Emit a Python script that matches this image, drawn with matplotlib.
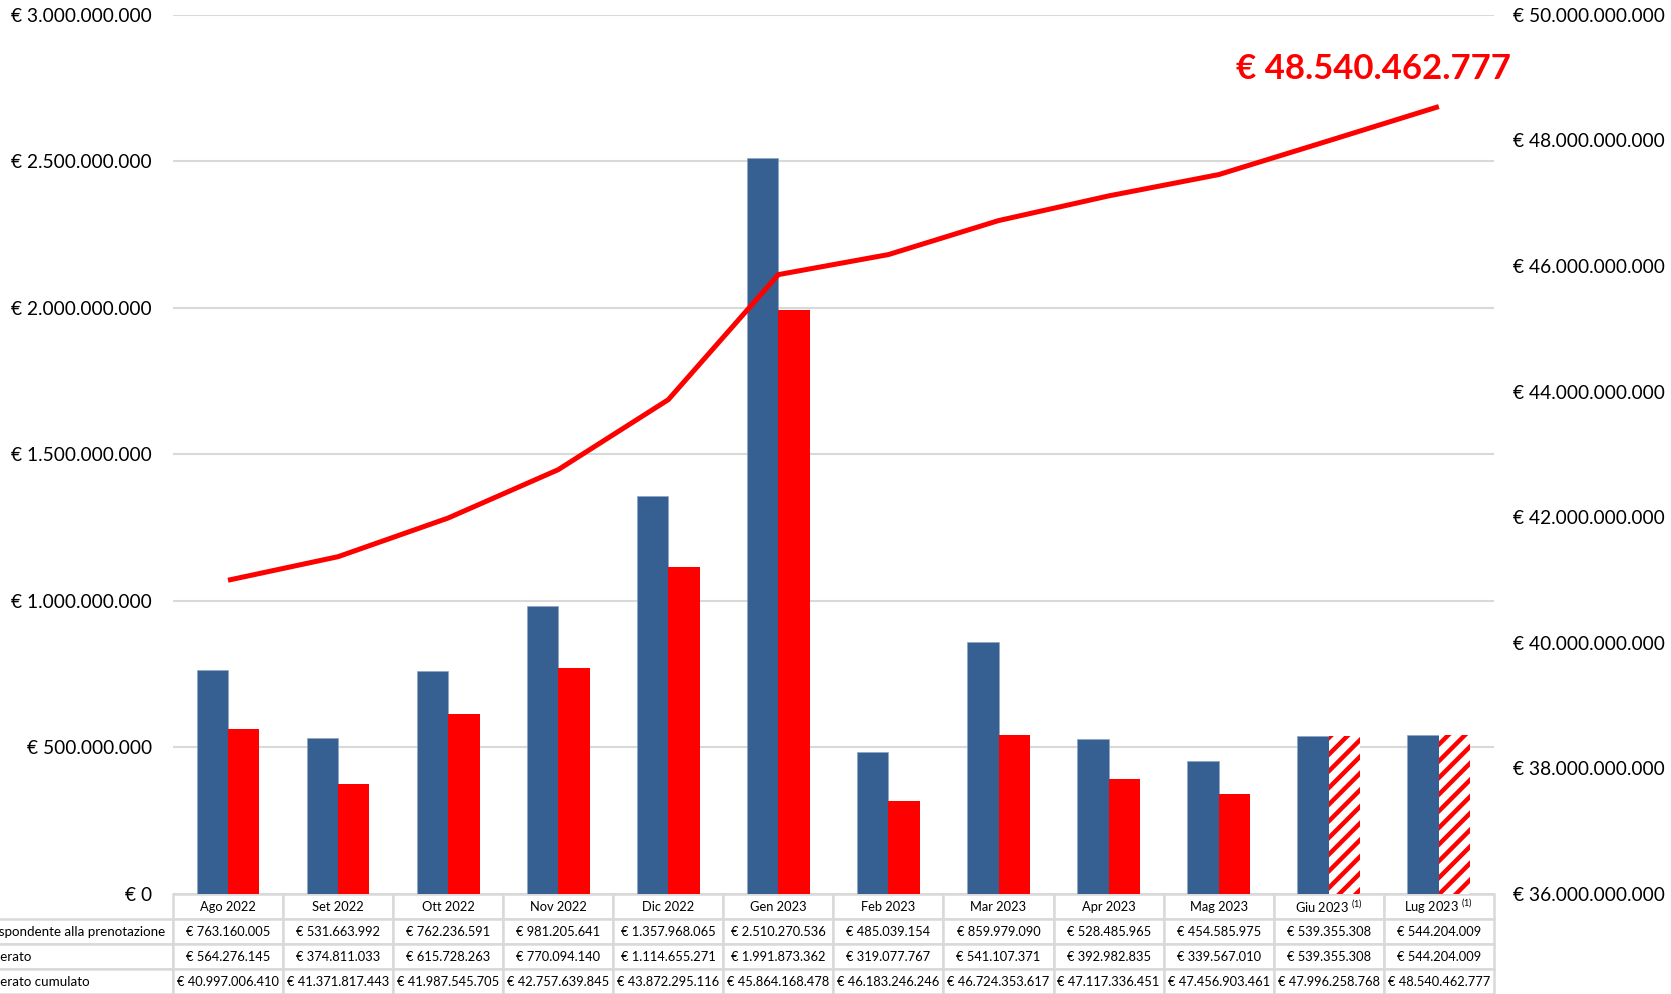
import numpy as np
import matplotlib.pyplot as plt
from matplotlib.ticker import FuncFormatter

plt.rcParams['font.family'] = ['Lato', 'DejaVu Sans']
plt.rcParams['hatch.linewidth'] = 3.2

mesi = ["Ago 2022", "Set 2022", "Ott 2022", "Nov 2022", "Dic 2022", "Gen 2023",
        "Feb 2023", "Mar 2023", "Apr 2023", "Mag 2023", "Giu 2023", "Lug 2023"]
prenotato = [763160005, 531663992, 762236591, 981205641, 1357968065, 2510270536,
             485039154, 859979090, 528485965, 454585975, 539355308, 544204009]
deliberato = [564276145, 374811033, 615728263, 770094140, 1114655271, 1991873362,
              319077767, 541107371, 392982835, 339567010, 539355308, 544204009]
cumulato = [40997006410, 41371817443, 41987545705, 42757639845, 43872295116, 45864168478,
            46183246246, 46724353617, 47117336451, 47456903461, 47996258768, 48540462777]
stimati = [False] * 10 + [True, True]   # (1) valori stimati

righe = ["Importo corrispondente alla prenotazione", "Importo deliberato",
         "Importo deliberato cumulato"]

blu = "#376092"
rosso = "#FF0000"
grigio = "#D9D9D9"


def euro(v, pos=None):
    if v == 0:
        return "€ 0"
    return "€ " + f"{v:,.0f}".replace(",", ".")


fig = plt.figure(figsize=(16.71, 9.94), dpi=100)
ax = fig.add_axes([0.1035, 0.1006, 0.7905, 0.8844])
ax2 = ax.twinx()

x = np.arange(len(mesi))
w = 0.285
ax.bar(x - w / 2, prenotato, w, color=blu, edgecolor="#8EA4C2", linewidth=0.5, zorder=2)
for xi, v, s in zip(x, deliberato, stimati):
    if s:
        ax.bar(xi + w / 2, v, w, facecolor="white", edgecolor=rosso, hatch="//",
               linewidth=0, zorder=2)
    else:
        ax.bar(xi + w / 2, v, w, color=rosso, zorder=2)

ax2.plot(x, cumulato, color=rosso, linewidth=3.6, solid_capstyle="butt")
ax2.annotate(euro(cumulato[-1]), (x[-1], cumulato[-1]), xytext=(-47, 27),
             textcoords="offset points", ha="center", va="center",
             color=rosso, fontsize=25, fontweight="bold")

ax.set_xlim(-0.5, len(mesi) - 0.5)
ax.set_ylim(0, 3e9)
ax.set_yticks(np.arange(0, 3e9 + 1, 5e8))
ax2.set_ylim(36e9, 50e9)
ax2.set_yticks(np.arange(36e9, 50e9 + 1, 2e9))
ax.yaxis.set_major_formatter(FuncFormatter(euro))
ax2.yaxis.set_major_formatter(FuncFormatter(euro))
ax.tick_params(axis="y", length=0, pad=15, labelsize=13.8)
ax2.tick_params(axis="y", length=0, pad=14, labelsize=13.8)
ax.set_xticks([])
ax.grid(axis="y", color=grigio, linewidth=1.5)
ax.set_axisbelow(True)
for a in (ax, ax2):
    for sp in a.spines.values():
        sp.set_visible(False)

celle = [[euro(v) for v in prenotato],
         [euro(v) for v in deliberato],
         [euro(v) for v in cumulato]]
intest = [m + (r" $^{\mathregular{(1)}}$" if s else "") for m, s in zip(mesi, stimati)]
rl = 0.212
h = 100 / 879
ncol = len(mesi)
tab = ax.table(cellText=celle, colLabels=intest, colWidths=[1 / ncol] * ncol,
               cellLoc="center", bbox=[0, -h, 1, h])
hc = tab[1, 0].get_height()
for i, lab in enumerate(righe):
    tab.add_cell(i + 1, -1, width=rl, height=hc, text=lab, loc="left")
tab.auto_set_font_size(False)
tab.set_fontsize(9.3)
for (r, c), cell in tab.get_celld().items():
    cell.set_edgecolor(grigio)
    cell.set_linewidth(1.8)
    if c == -1:
        cell.get_text().set_fontsize(9.6)

fig.savefig("out.png", dpi=100)
